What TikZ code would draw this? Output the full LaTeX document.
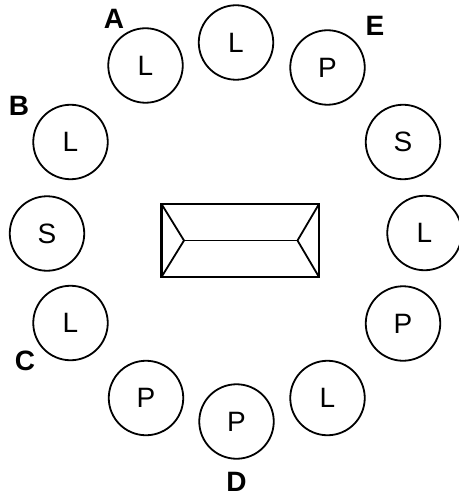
\documentclass[tikz,border=0pt]{standalone}
\usepackage{fontspec}
\setmainfont{Liberation Sans}

\begin{document}
\begin{tikzpicture}[x=1pt, y=-1pt,
    seat/.style={circle, draw, line width=1.8pt, minimum size=74.5pt, inner sep=0pt, font=\fontsize{28}{32}\selectfont},
    tag/.style={inner sep=0pt, font=\bfseries\fontsize{28}{32}\selectfont}]
                    \useasboundingbox (0,0) rectangle (458,494);
                    % seats round the table
                    \node[seat] (top) at (236, 42.5) {L};
                    \node[seat] (sa) at (145.5, 65.5) {L};
                    \node[seat] (se) at (327.5, 67.5) {P};
                    \node[seat] (sb) at (70.5, 142) {L};
                    \node[seat] (rs) at (403, 142) {S};
                    \node[seat] (ls) at (47, 233.5) {S};
                    \node[seat] (rl) at (424.5, 233) {L};
                    \node[seat] (sc) at (70.5, 323) {L};
                    \node[seat] (rp) at (403, 323.5) {P};
                    \node[seat] (bl) at (146, 398) {P};
                    \node[seat] (sd) at (236.5, 421.5) {P};
                    \node[seat] (br) at (327.5, 398) {L};
                    % letters
                    \node[tag] (A) at (114, 19) {A};
                    \node[tag] (B) at (19, 106) {B};
                    \node[tag] (C) at (25, 361) {C};
                    \node[tag] (D) at (236.5, 481.5) {D};
                    \node[tag] (E) at (375, 26) {E};
                    % table
                    \coordinate (tl) at (161.5, 204);
                    \coordinate (tr) at (319, 204);
                    \coordinate (bl0) at (161.5, 277);
                    \coordinate (br0) at (319, 277);
                    \coordinate (ml) at (184, 240.5);
                    \coordinate (mr) at (297.5, 240.5);
                    \draw[line width=2.2pt] (tl) rectangle (br0);
                    \draw[line width=1.8pt] (tl) -- (ml) -- (bl0);
                    \draw[line width=1.8pt] (tr) -- (mr) -- (br0);
                    \draw[line width=1.8pt] (ml) -- (mr);
                \end{tikzpicture}
\end{document}
